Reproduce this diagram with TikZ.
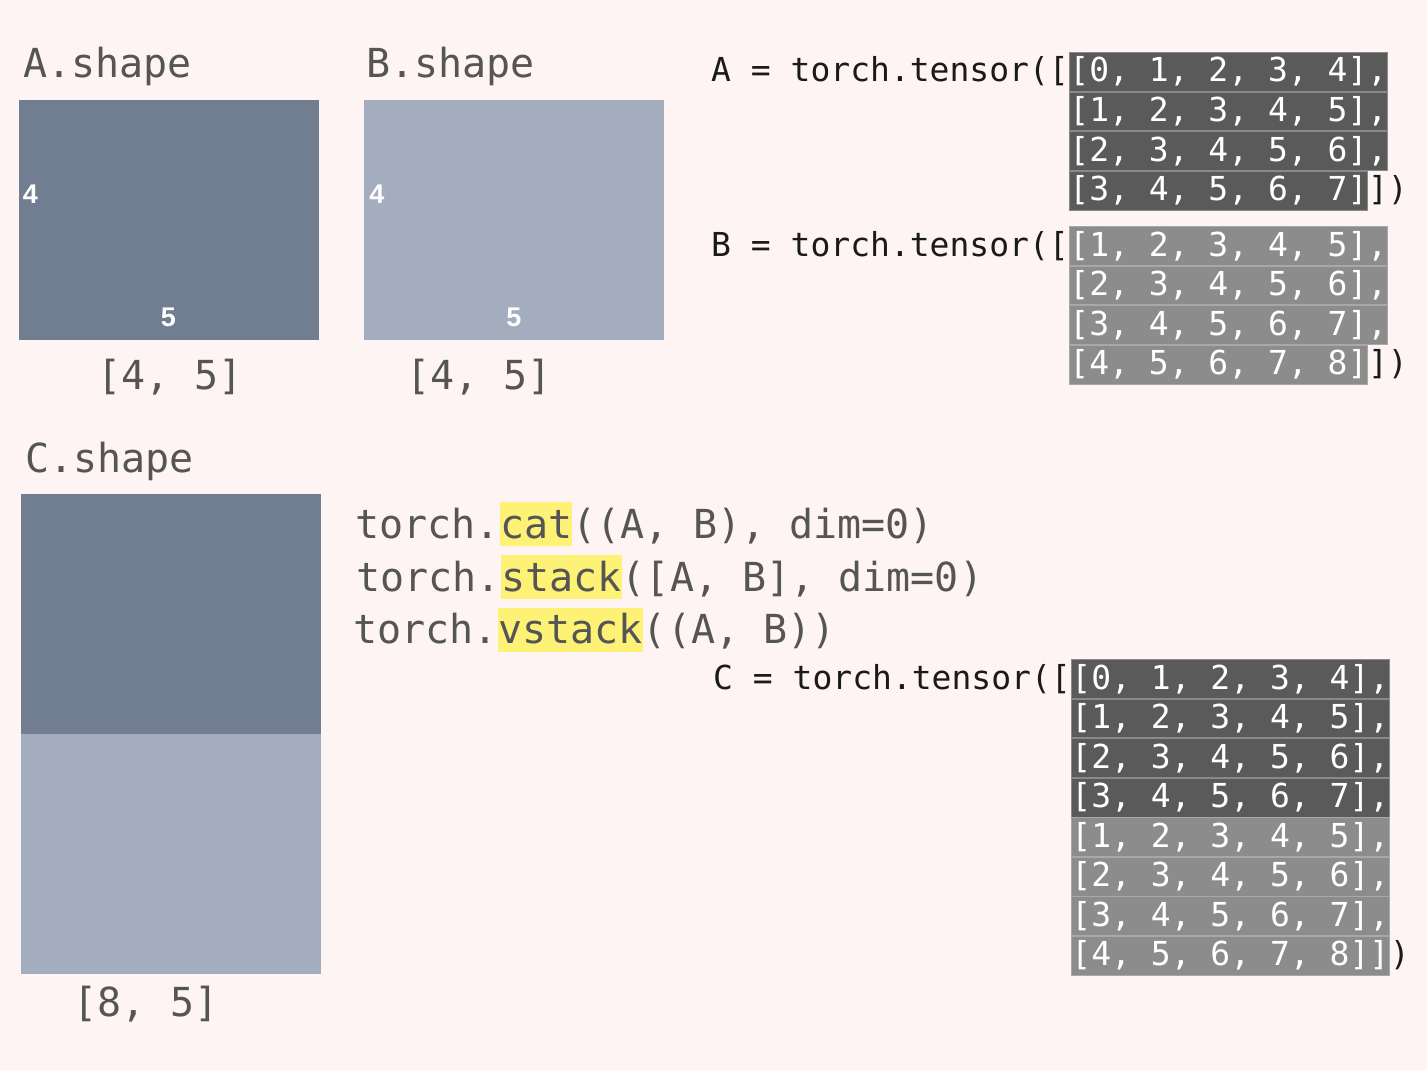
\documentclass[tikz,border=0pt]{standalone}
\usepackage{fontspec}
\newfontfamily\codefont{DejaVu Sans Mono}
\newfontfamily\dimfont{Liberation Sans}

\definecolor{pagebg}{HTML}{FFF4F4}
\definecolor{slateA}{HTML}{717E91}
\definecolor{slateB}{HTML}{A3ADBD}
\definecolor{rowdark}{HTML}{5A5A5A}
\definecolor{rowdarkline}{HTML}{8A8A8A}
\definecolor{rowlight}{HTML}{8C8C8C}
\definecolor{rowlightline}{HTML}{A8A8A8}
\definecolor{labelgray}{HTML}{555555}
\definecolor{hdrblack}{HTML}{1A1A1A}
\definecolor{hlyellow}{HTML}{FDF276}

\begin{document}
\begin{tikzpicture}[x=1pt,y=-1pt,
  big/.style={font={\codefont\fontsize{40pt}{48pt}\selectfont}, text=labelgray, inner sep=0pt},
  dimlbl/.style={font={\dimfont\bfseries\fontsize{27pt}{32pt}\selectfont}, text=white, inner sep=0pt},
  blockbox/.style={inner sep=0pt, minimum width=300pt, minimum height=240pt},
  hl/.style={fill=hlyellow, text height=36pt, text depth=8pt},
  mat/.style={font={\codefont\fontsize{33pt}{40pt}\selectfont}, inner sep=0pt},
  hdr/.style={mat, text=hdrblack, anchor=base west},
  rowA/.style={mat, fill=rowdark, draw=rowdarkline, line width=0.8pt, text=white,
    text height=29.5pt, text depth=9.25pt, anchor=north west},
  rowB/.style={mat, fill=rowlight, draw=rowlightline, line width=0.8pt, text=white,
    text height=29.5pt, text depth=9.25pt, anchor=north west}
]
% page
\fill[pagebg] (0,0) rectangle (1427,1070);
\useasboundingbox (0,0) rectangle (1427,1070);

% ---- shape of A ----
\node[big, anchor=base west] (lblA) at (23,78) {A.shape};
\node[blockbox, fill=slateA] (boxA) at (169,220) {};
\node[dimlbl] (rA) at (30.5,194) {4};
\node[dimlbl] (cA) at (168.3,317.5) {5};
\node[big, anchor=base] (dimA) at (170,389) {[4, 5]};

% ---- shape of B ----
\node[big, anchor=base west] (lblB) at (366,78) {B.shape};
\node[blockbox, fill=slateB] (boxB) at (514,220) {};
\node[dimlbl] (rB) at (377,194) {4};
\node[dimlbl] (cB) at (514,317) {5};
\node[big, anchor=base] (dimB) at (479,389) {[4, 5]};

% ---- shape of C ----
\node[big, anchor=base west] (lblC) at (25,472) {C.shape};
\node[blockbox, fill=slateA] (boxCa) at (171,614) {};
\node[blockbox, fill=slateB] (boxCb) at (171,854) {};
\node[big, anchor=base] (dimC) at (146,1016) {[8, 5]};

% ---- the three calls ----
\node[big, anchor=base west] (c1a) at (355,538) {torch.};
\node[big, hl, anchor=base west] (c1b) at (c1a.base east) {cat};
\node[big, anchor=base west] (c1c) at (c1b.base east) {((A, B), dim=0)};

\node[big, anchor=base west] (c2a) at (356,591) {torch.};
\node[big, hl, anchor=base west] (c2b) at (c2a.base east) {stack};
\node[big, anchor=base west] (c2c) at (c2b.base east) {([A, B], dim=0)};

\node[big, anchor=base west] (c3a) at (353,643.5) {torch.};
\node[big, hl, anchor=base west] (c3b) at (c3a.base east) {vstack};
\node[big, anchor=base west] (c3c) at (c3b.base east) {((A, B))};

% ---- tensor A ----
\node[hdr] (hA) at (711,82) {A = torch.tensor([};
\node[rowA, anchor=base west] (a1) at (hA.base east) {[0, 1, 2, 3, 4],};
\node[rowA] (a2) at (a1.south west) {[1, 2, 3, 4, 5],};
\node[rowA] (a3) at (a2.south west) {[2, 3, 4, 5, 6],};
\node[rowA] (a4) at (a3.south west) {[3, 4, 5, 6, 7]};
\node[hdr] (tA) at (a4.base east) {])};

% ---- tensor B ----
\node[hdr] (hB) at (711,256) {B = torch.tensor([};
\node[rowB, anchor=base west] (b1) at (hB.base east) {[1, 2, 3, 4, 5],};
\node[rowB] (b2) at (b1.south west) {[2, 3, 4, 5, 6],};
\node[rowB] (b3) at (b2.south west) {[3, 4, 5, 6, 7],};
\node[rowB] (b4) at (b3.south west) {[4, 5, 6, 7, 8]};
\node[hdr] (tB) at (b4.base east) {])};

% ---- tensor C ----
\node[hdr] (hC) at (713,689) {C = torch.tensor([};
\node[rowA, anchor=base west] (k1) at (hC.base east) {[0, 1, 2, 3, 4],};
\node[rowA] (k2) at (k1.south west) {[1, 2, 3, 4, 5],};
\node[rowA] (k3) at (k2.south west) {[2, 3, 4, 5, 6],};
\node[rowA] (k4) at (k3.south west) {[3, 4, 5, 6, 7],};
\node[rowB] (k5) at (k4.south west) {[1, 2, 3, 4, 5],};
\node[rowB] (k6) at (k5.south west) {[2, 3, 4, 5, 6],};
\node[rowB] (k7) at (k6.south west) {[3, 4, 5, 6, 7],};
\node[rowB] (k8) at (k7.south west) {[4, 5, 6, 7, 8]]};
\node[hdr] (tC) at (k8.base east) {)};
\end{tikzpicture}
\end{document}
